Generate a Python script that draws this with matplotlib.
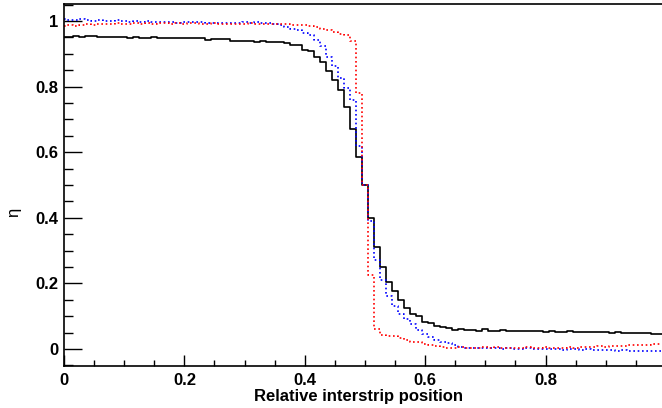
import numpy as np
import matplotlib
matplotlib.use('Agg')
import matplotlib.pyplot as plt
from matplotlib.ticker import MultipleLocator, FuncFormatter

plt.rcParams['font.family'] = ['Liberation Sans', 'DejaVu Sans']

# bin centres, width 0.01
pos = np.linspace(0.0, 1.0, 101)

eta_black = [
    0.952, 0.952, 0.953, 0.951, 0.954, 0.953, 0.952, 0.951, 0.952, 0.950,
    0.951, 0.949, 0.950, 0.948, 0.949, 0.950, 0.948, 0.947, 0.948, 0.949,
    0.947, 0.948, 0.947, 0.948, 0.942, 0.945, 0.946, 0.945, 0.940, 0.939,
    0.938, 0.938, 0.937, 0.938, 0.936, 0.936, 0.935, 0.933, 0.928, 0.927,
    0.912, 0.908, 0.890, 0.875, 0.847, 0.821, 0.789, 0.737, 0.670, 0.585,
    0.500, 0.400, 0.310, 0.250, 0.205, 0.178, 0.150, 0.126, 0.106, 0.099,
    0.083, 0.078, 0.071, 0.068, 0.065, 0.058, 0.060, 0.057, 0.058, 0.055,
    0.060, 0.056, 0.055, 0.057, 0.056, 0.055, 0.054, 0.056, 0.055, 0.054,
    0.052, 0.054, 0.053, 0.053, 0.054, 0.052, 0.053, 0.052, 0.052, 0.051,
    0.051, 0.050, 0.052, 0.050, 0.050, 0.049, 0.048, 0.050, 0.047, 0.046, 0.046,
]

eta_blue = [
    1.006, 1.004, 1.003, 1.005, 1.002, 1.000, 1.003, 1.001, 0.999, 1.002,
    1.000, 0.998, 1.001, 0.997, 0.999, 0.998, 0.996, 0.998, 0.997, 0.995,
    0.997, 0.996, 0.998, 0.997, 0.995, 0.994, 0.993, 0.995, 0.993, 0.994,
    0.996, 0.995, 0.997, 0.995, 0.994, 0.990, 0.988, 0.983, 0.975, 0.972,
    0.963, 0.958, 0.942, 0.925, 0.890, 0.862, 0.825, 0.795, 0.758, 0.620,
    0.500, 0.390, 0.270, 0.210, 0.160, 0.130, 0.108, 0.092, 0.075, 0.058,
    0.045, 0.036, 0.028, 0.022, 0.018, 0.012, 0.007, 0.004, 0.003, 0.002,
    0.004, 0.002, 0.003, 0.001, 0.002, 0.000, 0.001, 0.002, 0.000, 0.001,
    0.000, -0.001, 0.001, -0.002, 0.000, -0.001, -0.002, -0.001, -0.003, -0.002,
    -0.004, -0.003, -0.005, -0.004, -0.005, -0.006, -0.005, -0.006, -0.006, -0.007, -0.007,
]

eta_red = [
    0.985, 0.987, 0.984, 0.988, 0.990, 0.989, 0.991, 0.992, 0.990, 0.993,
    0.991, 0.992, 0.994, 0.992, 0.993, 0.991, 0.993, 0.994, 0.992, 0.993,
    0.992, 0.994, 0.993, 0.991, 0.992, 0.993, 0.991, 0.992, 0.990, 0.992,
    0.991, 0.993, 0.991, 0.990, 0.992, 0.991, 0.991, 0.990, 0.989, 0.987,
    0.987, 0.985, 0.982, 0.977, 0.972, 0.966, 0.962, 0.957, 0.940, 0.780,
    0.500, 0.225, 0.062, 0.042, 0.040, 0.038, 0.033, 0.027, 0.022, 0.020,
    0.014, 0.012, 0.010, 0.007, 0.004, 0.003, 0.005, 0.002, 0.004, 0.003,
    0.006, 0.004, 0.005, 0.003, 0.004, 0.002, 0.004, 0.005, 0.003, 0.004,
    0.005, 0.003, 0.002, 0.004, 0.005, 0.004, 0.006, 0.007, 0.006, 0.008,
    0.007, 0.009, 0.008, 0.010, 0.011, 0.012, 0.011, 0.013, 0.014, 0.015, 0.015,
]

fig = plt.figure(figsize=(6.62, 4.08), dpi=100)
ax = fig.add_axes([64 / 662, 1 - 366 / 408, 598 / 662, 362 / 408])

dots = (0, (1, 1.6))
ax.plot(pos, eta_black, drawstyle='steps-mid', color='black', lw=1.2)
ax.plot(pos, eta_blue, drawstyle='steps-mid', color='#0000ff', lw=1.2, ls=dots)
ax.plot(pos, eta_red, drawstyle='steps-mid', color='#ff0000', lw=1.2, ls=dots)

ax.set_xlim(0, 0.9934)
ax.set_ylim(-0.052, 1.052)

ax.spines['right'].set_visible(False)
for s in ['left', 'bottom', 'top']:
    ax.spines[s].set_linewidth(1.2)

fmt = FuncFormatter(lambda v, p: f'{v:g}')
ax.xaxis.set_major_locator(MultipleLocator(0.2))
ax.xaxis.set_minor_locator(MultipleLocator(0.05))
ax.yaxis.set_major_locator(MultipleLocator(0.2))
ax.yaxis.set_minor_locator(MultipleLocator(0.05))
ax.xaxis.set_major_formatter(fmt)
ax.yaxis.set_major_formatter(fmt)

ax.tick_params(axis='x', which='major', direction='in', length=8, width=1, pad=5, top=False)
ax.tick_params(axis='x', which='minor', direction='in', length=4, width=1, top=False)
ax.tick_params(axis='y', which='major', direction='in', length=13, width=1, pad=4, right=False)
ax.tick_params(axis='y', which='minor', direction='in', length=6.5, width=1, right=False)
for lab in ax.get_xticklabels() + ax.get_yticklabels():
    lab.set_fontweight('bold')
    lab.set_fontsize(12)

fig.text(359 / 662, 1 - 396 / 408, 'Relative interstrip position', ha='center', va='center',
         fontsize=12, fontweight='bold')
fig.text(14 / 662, 1 - 212 / 408, 'η', ha='center', va='center', rotation=90, fontsize=12)

fig.savefig('out.png', dpi=100)
